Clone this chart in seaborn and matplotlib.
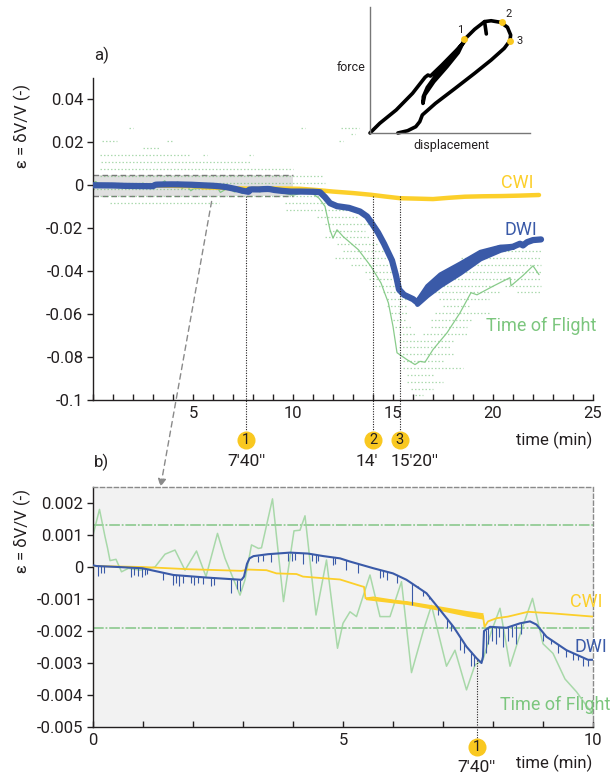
import numpy as np
import matplotlib
matplotlib.use("Agg")
import matplotlib.pyplot as plt
from matplotlib.patches import Rectangle, ConnectionPatch
from matplotlib.ticker import MultipleLocator
import seaborn as sns

# ---------------------------------------------------------------- data
# Diffuse wave interferometry: time (min) and relative velocity change
dwi_t = [0.0, 0.07, 0.5, 0.99, 1.61, 2.27, 2.97, 3.02, 3.08, 3.13, 3.21, 3.5, 3.94,
         4.3, 4.61, 4.94, 5.14, 5.61, 6.0, 6.27, 6.67, 6.94, 7.21, 7.47, 7.67, 7.77,
         7.80, 7.82, 7.94, 8.27, 8.54, 8.74, 8.87, 9.07, 9.47, 9.9, 10.35, 11.0,
         11.35, 11.6, 11.85, 12.2, 12.8, 13.35, 13.7, 13.95, 14.25, 14.55, 14.95,
         15.15, 15.3, 15.55, 16.0, 16.2, 16.45, 16.7, 17.35, 18.35, 19.35, 20.35,
         21.0, 21.35, 21.5, 21.7, 22.0, 22.4]
dwi_v = [0.00005, 0.00003, 0.0, -0.00004, -0.00025, -0.00033, -0.0004, -0.0003,
         0.0001, 0.00027, 0.00034, 0.0004, 0.00045, 0.00042, 0.00034, 0.00027,
         0.00017, -0.00004, -0.0002, -0.0004, -0.00082, -0.00134, -0.00187,
         -0.00249, -0.00285, -0.0030, -0.0028, -0.0020, -0.00187, -0.0019,
         -0.00176, -0.0017, -0.0018, -0.00218, -0.0026, -0.0029, -0.0029, -0.0030,
         -0.0032, -0.0055, -0.0083, -0.0097, -0.0105, -0.0122, -0.0145, -0.0178,
         -0.0220, -0.0272, -0.0350, -0.0420, -0.0485, -0.0510, -0.0530, -0.0545,
         -0.0520, -0.0490, -0.0440, -0.0385, -0.0325, -0.0293, -0.0286, -0.0272,
         -0.0280, -0.0265, -0.0255, -0.0252]

# scatter of the DWI signal after the peak load
dwi_band_t = [16.2, 16.7, 17.35, 18.35, 19.35, 20.35, 21.0]
dwi_band_hi = [-0.0537, -0.0468, -0.0414, -0.0363, -0.0309, -0.0285, -0.0286]
dwi_band_lo = [-0.0553, -0.0512, -0.0466, -0.0407, -0.0341, -0.0301, -0.0286]

# short downward glitches of the DWI record (time, lowest value)
dwi_spike_t = [0.10, 0.16, 0.22, 0.75, 0.82, 0.9, 0.97, 1.03, 1.07, 1.4, 1.6, 1.66,
               1.72, 1.8, 1.95, 2.02, 2.1, 2.2, 2.35, 2.42, 2.75, 2.88, 2.93, 3.3,
               3.4, 3.55, 3.9, 3.97, 4.03, 4.2, 4.38, 4.45, 4.5, 4.8, 4.84, 5.05,
               5.3, 5.74, 5.8, 5.87, 6.07, 6.37, 6.5, 6.6, 6.72, 6.8, 6.9, 7.07,
               7.15, 7.34, 7.42, 7.55, 7.62, 7.85, 7.9, 7.97, 8.05, 8.12, 8.2, 8.3,
               8.38, 8.45, 8.55, 9.0, 9.15, 9.3, 9.45, 9.6, 9.7, 9.8, 9.9]
dwi_spike_low = [-0.00027, -0.0002, -0.00018, -0.0003, -0.00025, -0.00028, -0.0003,
                 -0.00025, -0.00022, -0.0004, -0.00055, -0.0005, -0.0006, -0.0005,
                 -0.0005, -0.00055, -0.0005, -0.00052, -0.0006, -0.00055, -0.0008,
                 -0.0007, -0.00075, 0.00015, 0.0002, 0.00015, 0.0002, 0.00018,
                 0.00022, 0.0001, 0.00018, 0.00012, 0.0002, 0.00005, 0.0001,
                 -0.0001, -0.0002, -0.00035, -0.0003, -0.0004, -0.0005, -0.0012,
                 -0.0006, -0.0009, -0.0010, -0.0011, -0.0015, -0.0019, -0.0020,
                 -0.0026, -0.0027, -0.0031, -0.0031, -0.0027, -0.0024, -0.0023,
                 -0.0024, -0.0022, -0.0025, -0.0023, -0.0022, -0.0024, -0.0021,
                 -0.0023, -0.0024, -0.0027, -0.0028, -0.0029, -0.0029, -0.0031,
                 -0.0031]

# Coda wave interferometry
cwi_t = [0.0, 0.99, 1.92, 2.97, 3.1, 3.47, 3.67, 4.07, 4.2, 4.6, 4.94, 5.37, 5.42,
         5.45, 5.61, 6.27, 6.94, 7.47, 7.8, 7.83, 7.9, 8.07, 8.3, 8.7, 9.2, 10.0,
         10.35, 11.2, 12.0, 13.0, 13.9, 14.6, 15.35, 16.2, 17.0, 17.8, 18.6, 19.5,
         20.4, 21.3, 22.3]
cwi_v = [0.00003, 0.0, -0.00007, -0.00012, -0.00008, -0.0001, -0.0002, -0.00022,
         -0.0003, -0.00035, -0.00039, -0.0006, -0.00062, -0.00098, -0.00095,
         -0.00111, -0.00129, -0.00145, -0.00153, -0.00187, -0.0017, -0.0016,
         -0.00155, -0.0014, -0.00145, -0.00155, -0.0016, -0.0022, -0.0029, -0.0036,
         -0.0044, -0.0052, -0.0060, -0.0062, -0.0064, -0.0058, -0.0053, -0.0051,
         -0.0050, -0.0048, -0.0045]
cwi_band_t = [5.45, 6.27, 6.94, 7.47, 7.8]
cwi_band_hi = [-0.00094, -0.00105, -0.00122, -0.00136, -0.00143]
cwi_band_lo = [-0.00102, -0.00117, -0.00136, -0.00154, -0.00163]

# Time of flight (moving average)
tof_t = [0.0, 0.13, 0.24, 0.29, 0.34, 0.46, 0.57, 0.71, 0.94, 1.24, 1.44, 1.64, 1.84,
         2.07, 2.26, 2.49, 2.64, 2.94, 3.04, 3.17, 3.31, 3.37, 3.59, 3.81, 4.02,
         4.14, 4.24, 4.46, 4.67, 4.89, 5.0, 5.14, 5.27, 5.54, 5.74, 5.94, 6.17,
         6.37, 6.61, 6.77, 7.07, 7.24, 7.47, 7.64, 7.8, 7.97, 8.14, 8.34, 8.57,
         8.79, 9.0, 9.2, 9.44, 9.67, 9.9, 10.0, 10.5, 11.0, 11.3, 11.6, 11.85,
         12.0, 12.2, 12.5, 13.27, 13.9, 14.4, 14.77, 15.0, 15.2, 15.7, 16.1,
         16.35, 16.6, 17.0, 17.7, 18.35, 18.9, 19.2, 20.0, 20.85, 20.9, 21.5,
         22.0, 22.3]
tof_v = [0.0010, 0.0018, 0.00095, 0.0006, 0.0002, 0.00024, -0.00015, -0.00004,
         -0.0001, 0.0, 0.0004, 0.00053, -0.0001, 0.0005, -0.0003, 0.00105,
         0.00027, -0.00088, -0.0004, 0.00069, 0.00058, 0.0006, 0.00213, -0.00108,
         0.00113, 0.00115, 0.0016, -0.0015, 0.00022, -0.00254, -0.00176, -0.0014,
         -0.00155, -0.00025, -0.00155, -0.00155, -0.00046, -0.0033, -0.00197,
         -0.0012, -0.0031, -0.0026, -0.00384, -0.00306, -0.0029, -0.002, -0.00129,
         -0.0031, -0.00197, -0.00098, -0.0024, -0.0027, -0.0035, -0.0039, -0.0044,
         -0.0046, -0.0035, -0.0040, -0.0060, -0.0098, -0.0207, -0.0246, -0.0207,
         -0.0238, -0.0300, -0.0378, -0.0455, -0.0548, -0.0657, -0.0780, -0.0812,
         -0.0835, -0.0820, -0.0824, -0.0765, -0.0687, -0.0594, -0.0500, -0.0510,
         -0.0470, -0.0430, -0.0468, -0.0420, -0.0375, -0.0416]

# individual time-of-flight readings, grouped by quantisation level
tof_row_level = [0.0269, 0.0269, 0.0269, 0.0237, 0.0205, 0.0205, 0.0205, 0.0173,
                 0.0141, 0.0141, 0.0141, 0.0109, 0.0077, 0.0045, 0.0013, -0.0019,
                 -0.0051, -0.0083, -0.0083, -0.0115, -0.0147, -0.0179, -0.0211,
                 -0.0243, -0.0275, -0.0307, -0.0307, -0.0339, -0.0339, -0.0371,
                 -0.0371, -0.0403, -0.0403, -0.0435, -0.0435, -0.0467, -0.0467,
                 -0.0467, -0.0499, -0.0499, -0.0499, -0.0531, -0.0531, -0.0563,
                 -0.0563, -0.0595, -0.0595, -0.0627, -0.0627, -0.0659, -0.0659,
                 -0.0691, -0.0691, -0.0723, -0.0755, -0.0787, -0.0819, -0.0851,
                 -0.0883, -0.0915, -0.0947, -0.0979]
tof_row_t0 = [1.8, 10.4, 12.4, 12.9, 0.45, 3.7, 12.3, 2.5, 0.35, 5.5, 7.8, 0.4, 0.35,
              0.35, 0.0, 0.0, 0.35, 0.85, 9.6, 9.65, 11.2, 11.6, 11.8, 11.6, 12.2,
              12.5, 19.5, 12.1, 18.4, 12.9, 18.5, 13.6, 18.1, 13.8, 17.7, 14.1,
              17.5, 20.6, 14.5, 16.9, 21.2, 14.7, 17.3, 14.7, 17.5, 14.9, 17.1,
              15.0, 16.9, 15.1, 16.9, 15.3, 16.5, 15.3, 15.3, 15.3, 15.5, 15.5,
              15.7, 15.7, 15.9, 16.1]
tof_row_t1 = [2.0, 10.6, 13.3, 13.1, 1.2, 4.0, 12.5, 3.3, 4.8, 5.7, 8.0, 7.9, 10.0,
              11.5, 11.6, 11.6, 11.6, 6.3, 11.6, 13.0, 13.2, 13.8, 13.6, 13.8, 14.2,
              14.6, 22.4, 15.0, 22.4, 14.9, 22.4, 15.1, 22.4, 15.3, 22.4, 15.5,
              20.0, 22.4, 15.5, 20.4, 22.4, 15.7, 19.8, 15.7, 18.9, 15.7, 19.8,
              15.7, 18.9, 15.9, 18.7, 16.1, 18.7, 18.0, 17.9, 18.1, 17.5, 18.5,
              17.1, 17.5, 17.0, 16.5]

# events: time (min) and labels
event_t = [7.67, 14.0, 15.33]
event_num = ["1", "2", "3"]
event_label = ["7'40''", "14'", "15'20''"]
event_label_t = [7.67, 13.7, 16.1]

# force-displacement loop (normalised units)
loop_disp = [0.0, 0.061, 0.164, 0.266, 0.344, 0.362, 0.378, 0.45, 0.552, 0.589,
             0.511, 0.429, 0.358, 0.333, 0.331, 0.342, 0.399, 0.481, 0.552, 0.593,
             0.654, 0.716, 0.757, 0.818, 0.859, 0.879, 0.875, 0.839, 0.757, 0.654,
             0.532, 0.409, 0.327, 0.311, 0.286, 0.235, 0.174]
loop_force = [0.0, 0.077, 0.183, 0.315, 0.442, 0.460, 0.452, 0.54, 0.672, 0.725,
              0.606, 0.487, 0.362, 0.288, 0.235, 0.302, 0.407, 0.526, 0.638, 0.746,
              0.823, 0.884, 0.891, 0.878, 0.839, 0.778, 0.733, 0.672, 0.579, 0.474,
              0.354, 0.235, 0.143, 0.090, 0.050, 0.018, 0.0]
hook_disp = [0.716, 0.722, 0.727]
hook_force = [0.884, 0.831, 0.786]
loop_pt_disp = [0.59, 0.822, 0.875]
loop_pt_force = [0.746, 0.878, 0.73]

# axis ticks
top_yticks = [0.04, 0.02, 0.0, -0.02, -0.04, -0.06, -0.08, -0.1]
top_ylabels = ["0.04", "0.02", "0", "-0.02", "-0.04", "-0.06", "-0.08", "-0.1"]
top_xticks = [5, 10, 15, 20, 25]
top_xlabels = ["5", "10", "15", "20", "25"]
bot_yticks = [0.002, 0.001, 0.0, -0.001, -0.002, -0.003, -0.004, -0.005]
bot_ylabels = ["0.002", "0.001", "0", "-0.001", "-0.002", "-0.003", "-0.004", "-0.005"]
bot_xticks = [0, 5, 10]
bot_xlabels = ["0", "5", "10"]

# ---------------------------------------------------------------- style
sns.set_theme(style="white")
plt.rcParams["font.family"] = ["Roboto", "DejaVu Sans"]
plt.rcParams["axes.unicode_minus"] = False

C_CWI = "#fccf2a"
C_DWI = "#3a5aa8"
C_TOF = "#7cc67e"
C_ROW = "#5db660"
C_TXT = "#231f20"
C_MARK = "#f9c820"
C_DASH = "#8a8a8a"

W, H = 611, 779
fig = plt.figure(figsize=(W / 100, H / 100), dpi=100)


def px_axes(x0, y0, x1, y1):
    return fig.add_axes([x0 / W, 1 - y1 / H, (x1 - x0) / W, (y1 - y0) / H])


ax1 = px_axes(93, 78, 593, 400)
ax2 = px_axes(93, 487, 593, 727)
axin = px_axes(370, 7, 530, 133)

# ---------------------------------------------------------------- panel a
ax1.set_xlim(0, 25)
ax1.set_ylim(-0.1, 0.05)
ax1.add_patch(Rectangle((0, -0.005), 10, 0.01, facecolor="#e0e0e0",
                        edgecolor="none", zorder=0.5))
ax1.hlines([0.005, -0.005], 0, 10, colors="#7a7a7a", linestyles=(0, (4, 2.5)),
           lw=1.0, zorder=0.6)
ax1.hlines(tof_row_level, tof_row_t0, tof_row_t1, colors=C_ROW,
           linestyles=(0, (1.2, 1.6)), lw=0.9, alpha=0.5, zorder=1)
sns.lineplot(x=tof_t, y=tof_v, ax=ax1, color=C_TOF, lw=0.9, alpha=0.9,
             estimator=None, sort=False, zorder=2)
sns.lineplot(x=cwi_t, y=cwi_v, ax=ax1, color=C_CWI, lw=3.2,
             estimator=None, sort=False, zorder=3)
ax1.fill_between(dwi_band_t, dwi_band_lo, dwi_band_hi, color=C_DWI, lw=3.5,
                 edgecolor=C_DWI, zorder=4)
sns.lineplot(x=dwi_t, y=dwi_v, ax=ax1, color=C_DWI, lw=4.5,
             estimator=None, sort=False, zorder=4)

for t in event_t:
    ax1.plot([t, t], [-0.0052, -0.1145], ls=(0, (1, 1.3)), color=C_TXT, lw=0.8,
             clip_on=False, zorder=5)
for t, n, lab, tl in zip(event_t, event_num, event_label, event_label_t):
    ax1.plot([t], [-0.1188], "o", ms=13, color=C_MARK, mew=0, clip_on=False,
             zorder=6)
    ax1.text(t, -0.1188, n, ha="center", va="center", fontsize=10.5,
             color=C_TXT, zorder=7)
    ax1.text(tl, -0.1286, lab, ha="center", va="center", fontsize=12.5,
             color=C_TXT)
ax1.text(24.97, -0.1186, "time (min)", ha="right", va="center", fontsize=12,
         color=C_TXT)

ax1.text(20.4, 0.0012, "CWI", color=C_CWI, fontsize=13, va="center")
ax1.text(20.6, -0.0207, "DWI", color=C_DWI, fontsize=13, va="center")
ax1.text(19.65, -0.0657, "Time of Flight", color=C_TOF, fontsize=13, va="center")

ax1.set_xticks(top_xticks)
ax1.set_xticklabels(top_xlabels)
ax1.xaxis.set_minor_locator(MultipleLocator(1))
ax1.set_yticks(top_yticks)
ax1.set_yticklabels(top_ylabels)
ax1.tick_params(axis="x", which="both", direction="in", length=4, width=1,
                colors=C_TXT, labelsize=12, pad=4, bottom=True)
ax1.tick_params(axis="y", direction="out", length=4, width=1, colors=C_TXT,
                labelsize=12, pad=3, left=True)
for s in ("top", "right"):
    ax1.spines[s].set_visible(False)
for s in ("left", "bottom"):
    ax1.spines[s].set_color(C_TXT)
    ax1.spines[s].set_linewidth(1.0)
ax1.set_xlabel("")
ax1.set_ylabel("")

# ---------------------------------------------------------------- panel b
ax2.set_facecolor("#f2f2f2")
ax2.set_xlim(0, 10)
ax2.set_ylim(-0.005, 0.0025)
ax2.hlines(tof_row_level, tof_row_t0, tof_row_t1, colors=C_ROW,
           linestyles=(0, (7, 1.2, 1.2, 1.2)), lw=1.1, alpha=0.75, zorder=1)
sns.lineplot(x=tof_t, y=tof_v, ax=ax2, color="#9bd49c", lw=1.1, alpha=0.85,
             estimator=None, sort=False, zorder=2)
ax2.fill_between(cwi_band_t, cwi_band_lo, cwi_band_hi, color=C_CWI, lw=0,
                 zorder=3)
sns.lineplot(x=cwi_t, y=cwi_v, ax=ax2, color=C_CWI, lw=1.3,
             estimator=None, sort=False, zorder=3)
spike_base = np.interp(dwi_spike_t, dwi_t, dwi_v)
ax2.vlines(dwi_spike_t, dwi_spike_low, spike_base, colors=C_DWI, lw=0.8,
           zorder=4)
sns.lineplot(x=dwi_t, y=dwi_v, ax=ax2, color=C_DWI, lw=1.5,
             estimator=None, sort=False, zorder=4)

ax2.plot([event_t[0], event_t[0]], [-0.0029, -0.00535], ls=(0, (1, 1.3)),
         color=C_TXT, lw=0.8, clip_on=False, zorder=5)
ax2.plot([event_t[0]], [-0.005625], "o", ms=13, color=C_MARK, mew=0,
         clip_on=False, zorder=6)
ax2.text(event_t[0], -0.005625, event_num[0], ha="center", va="center",
         fontsize=10.5, color=C_TXT, zorder=7)
ax2.text(event_t[0], -0.00628, event_label[0], ha="center", va="center",
         fontsize=12.5, color=C_TXT)
ax2.text(9.985, -0.006125, "time (min)", ha="right", va="center", fontsize=12,
         color=C_TXT)

ax2.text(9.54, -0.00108, "CWI", color=C_CWI, fontsize=13, va="center")
ax2.text(9.64, -0.0025, "DWI", color=C_DWI, fontsize=13, va="center")
ax2.text(8.13, -0.0043, "Time of Flight", color=C_TOF, fontsize=13, va="center")

ax2.set_xticks(bot_xticks)
ax2.set_xticklabels(bot_xlabels)
ax2.xaxis.set_minor_locator(MultipleLocator(1))
ax2.set_yticks(bot_yticks)
ax2.set_yticklabels(bot_ylabels)
ax2.tick_params(axis="x", which="both", direction="in", length=4, width=1,
                colors=C_TXT, labelsize=12, pad=4, bottom=True)
ax2.tick_params(axis="y", direction="out", length=4, width=1, colors=C_TXT,
                labelsize=12, pad=3, left=True)
for s in ("left", "bottom"):
    ax2.spines[s].set_color(C_TXT)
    ax2.spines[s].set_linewidth(1.0)
for s in ("top", "right"):
    ax2.spines[s].set_color(C_DASH)
    ax2.spines[s].set_linestyle((0, (3, 2)))
    ax2.spines[s].set_linewidth(1.0)
ax2.set_xlabel("")
ax2.set_ylabel("")

# zoom arrow from the shaded window of panel a to panel b
con = ConnectionPatch(xyA=(5.93, -0.0075), coordsA=ax1.transData,
                      xyB=(1.35, 0.0025), coordsB=ax2.transData,
                      arrowstyle="-|>", linestyle=(0, (4, 3)), color=C_DASH,
                      lw=1.0, mutation_scale=12)
fig.add_artist(con)

# ---------------------------------------------------------------- inset
axin.set_xlim(0, 1)
axin.set_ylim(0, 1)
axin.patch.set_alpha(0)
sns.lineplot(x=loop_disp, y=loop_force, ax=axin, color="black", lw=2.6,
             estimator=None, sort=False, clip_on=False)
sns.lineplot(x=hook_disp, y=hook_force, ax=axin, color="black", lw=2.6,
             estimator=None, sort=False, clip_on=False)
axin.plot(loop_pt_disp, loop_pt_force, "o", ms=5, color=C_MARK, mew=0, zorder=5)
axin.text(0.563, 0.817, "1", fontsize=8, color=C_TXT, ha="center", va="center")
axin.text(0.863, 0.944, "2", fontsize=8, color=C_TXT, ha="center", va="center")
axin.text(0.937, 0.733, "3", fontsize=8, color=C_TXT, ha="center", va="center")
axin.text(-0.025, 0.516, "force", fontsize=9, color=C_TXT, ha="right",
          va="center", transform=axin.transAxes)
axin.text(0.509, -0.103, "displacement", fontsize=9, color=C_TXT, ha="center",
          va="center", transform=axin.transAxes)
axin.set_xticks([])
axin.set_yticks([])
for s in ("top", "right"):
    axin.spines[s].set_visible(False)
for s in ("left", "bottom"):
    axin.spines[s].set_color("#777777")
    axin.spines[s].set_linewidth(1.0)
axin.set_xlabel("")
axin.set_ylabel("")

# ---------------------------------------------------------------- labels
fig.text(94 / W, 1 - 55 / H, "a)", fontsize=12, color=C_TXT, va="center")
fig.text(94 / W, 1 - 462 / H, "b)", fontsize=12, color=C_TXT, va="center")
ylab = "\u03b5 = \u03b4V/V (-)"
fig.text(22 / W, 1 - 126 / H, ylab, rotation=90, fontsize=12, color=C_TXT,
         ha="center", va="center")
fig.text(22 / W, 1 - 531 / H, ylab, rotation=90, fontsize=12, color=C_TXT,
         ha="center", va="center")

fig.savefig("out.png", dpi=100)
